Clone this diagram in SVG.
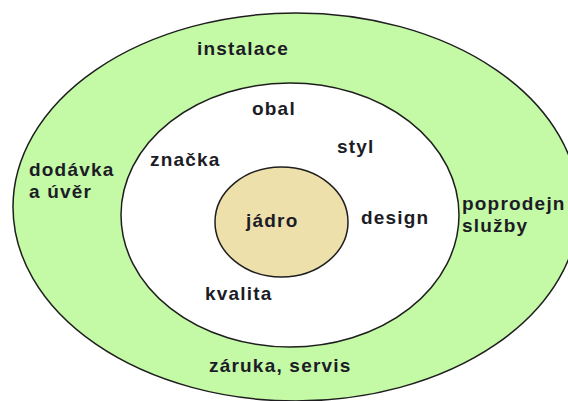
<svg xmlns="http://www.w3.org/2000/svg" width="568" height="401" viewBox="0 0 568 401">
  <style>
    .ring { stroke: #1e1e1e; stroke-width: 1.5; }
    .lbl { font-family: "Liberation Sans", Arial, sans-serif; font-size: 19px; font-weight: bold; letter-spacing: 1.2px; fill: #1c1c26; }
  </style>
  <rect x="0" y="0" width="568" height="401" fill="#ffffff"/>
  <g id="outer-ring">
    <ellipse class="ring" cx="296" cy="207" rx="283" ry="194" fill="#c4f9a6"/>
    <text class="lbl" x="197" y="55">instalace</text>
    <text class="lbl" x="29" y="176">dodávka</text>
    <text class="lbl" x="29" y="198">a úvěr</text>
    <text class="lbl" x="462" y="210">poprodejn</text>
    <text class="lbl" x="462" y="232">služby</text>
    <text class="lbl" x="209" y="372">záruka, servis</text>
  </g>
  <g id="middle-ring">
    <ellipse class="ring" cx="290" cy="215" rx="169" ry="132" fill="#ffffff"/>
    <text class="lbl" x="252" y="115">obal</text>
    <text class="lbl" x="337" y="153">styl</text>
    <text class="lbl" x="150" y="166">značka</text>
    <text class="lbl" x="361" y="224">design</text>
    <text class="lbl" x="205" y="300">kvalita</text>
  </g>
  <g id="core">
    <ellipse class="ring" cx="281.5" cy="222" rx="66.5" ry="55" fill="#eee0ab"/>
    <text class="lbl" x="246" y="227">jádro</text>
  </g>
</svg>
